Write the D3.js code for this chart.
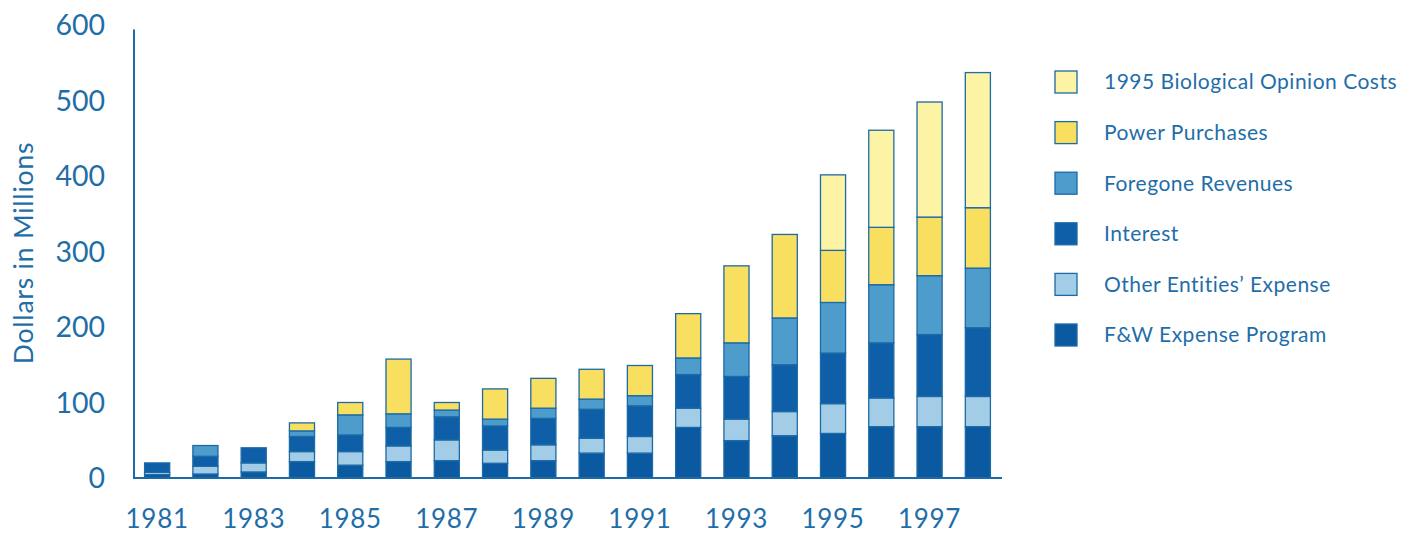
<!DOCTYPE html>
<html>
<head>
<meta charset="utf-8">
<script src="https://cdn.jsdelivr.net/npm/d3@7"></script>
<style>
  html, body { margin: 0; padding: 0; background: #ffffff; }
  svg { display: block; }
  text { font-family: Lato, "Open Sans", sans-serif; fill: #1f6ea8; }
</style>
</head>
<body>
<svg id="chart" width="1410" height="536"></svg>
<script>
// Fish & wildlife program costs by year, in millions of dollars
const years = [1981, 1982, 1983, 1984, 1985, 1986, 1987, 1988, 1989,
               1990, 1991, 1992, 1993, 1994, 1995, 1996, 1997, 1998];

const fwExpense     = [4.5, 5.3, 8, 21.7, 17, 21.7, 23, 19.5, 23, 33, 33, 67, 49.5, 56, 59, 68, 68, 68];
const otherEntities = [3, 10.2, 12, 13.3, 18, 20.8, 27.5, 17.5, 21, 19.7, 22, 25.5, 28.5, 32, 39.5, 38, 40, 40];
const interest      = [12.5, 13.3, 20, 20, 22, 24.5, 30.5, 32, 35, 38.3, 40.6, 44.5, 56.5, 62, 67, 73, 82, 91];
const foregone      = [0, 14.2, 0, 7.4, 26.6, 18, 9, 9, 13.5, 13.5, 13.4, 22, 44.5, 62, 67, 77, 78, 79];
const powerPurch    = [0, 0, 0, 10.6, 16.4, 72.5, 10, 40, 39.5, 39.5, 40, 58.7, 102, 110.6, 69, 76, 77.6, 80];
const bioOpinion    = [0, 0, 0, 0, 0, 0, 0, 0, 0, 0, 0, 0, 0, 0, 100, 128.6, 152.4, 179];

const seriesNames = ["F&W Expense Program", "Other Entities\u2019 Expense", "Interest",
                     "Foregone Revenues", "Power Purchases", "1995 Biological Opinion Costs"];
const seriesValues = [fwExpense, otherEntities, interest, foregone, powerPurch, bioOpinion];
const seriesColors = ["#0a59a1", "#a3cce6", "#0e5fa7", "#4e9ccb", "#f9df5f", "#fcf3a4"];

const xTickLabels = [1981, 1983, 1985, 1987, 1989, 1991, 1993, 1995, 1997];
const yTicks = [0, 100, 200, 300, 400, 500, 600];

const outline = "#1c6aa6";
const svg = d3.select("#chart");

// rows for the stack layout
const rows = years.map((yr, i) => {
  const r = { year: yr };
  seriesNames.forEach((n, k) => { r[n] = seriesValues[k][i]; });
  return r;
});
const stacked = d3.stack().keys(seriesNames)(rows);

const x = d3.scaleBand().domain(years).range([133, 1002]).paddingInner(0.48).paddingOuter(0.24);
const y = d3.scaleLinear().domain([0, 600]).range([478, 25]);

// stacked bars
svg.append("g").selectAll("g")
  .data(stacked)
  .join("g")
  .attr("fill", (d, i) => seriesColors[i])
  .selectAll("rect")
  .data(d => d.filter(s => s[1] - s[0] > 0))
  .join("rect")
  .attr("x", d => x(d.data.year))
  .attr("width", x.bandwidth())
  .attr("y", d => y(d[1]))
  .attr("height", d => y(d[0]) - y(d[1]))
  .attr("stroke", outline)
  .attr("stroke-width", 1.3);

// axes
const yAxis = d3.axisLeft(y).tickValues(yTicks).tickSize(0).tickPadding(29);
const gy = svg.append("g").attr("transform", "translate(134,0)").call(yAxis);
gy.select(".domain").attr("stroke", outline).attr("stroke-width", 2).attr("d", `M0,${y(594)}V${y(0)}`);
gy.selectAll("text").attr("font-size", 28.5).attr("fill", "#1f6ea8").attr("dy", "0.35em");

const xAxis = d3.axisBottom(x).tickValues(xTickLabels).tickSize(0).tickPadding(50);
const gx = svg.append("g").attr("transform", `translate(0,${y(0)})`).call(xAxis);
gx.select(".domain").attr("stroke", outline).attr("stroke-width", 2).attr("d", "M133,0H1002");
gx.selectAll("text").attr("font-size", 26).attr("letter-spacing", 0.7).attr("fill", "#1f6ea8").attr("dy", "0");

// y axis title
svg.append("text")
  .attr("transform", `translate(33,253) rotate(-90)`)
  .attr("text-anchor", "middle")
  .attr("font-size", 26.5)
  .attr("letter-spacing", 0.8)
  .text("Dollars in Millions");

// legend, top entry is the top stack layer
const legendOrder = seriesNames.map((n, i) => i).reverse();
const lg = svg.append("g").selectAll("g")
  .data(legendOrder)
  .join("g")
  .attr("transform", (d, j) => `translate(1055,${82 + j * 50.6})`);
lg.append("rect")
  .attr("x", 0).attr("y", -11).attr("width", 22).attr("height", 22)
  .attr("fill", d => seriesColors[d])
  .attr("stroke", outline).attr("stroke-width", 1.3);
lg.append("text")
  .attr("x", 49).attr("y", 0).attr("dy", "0.35em")
  .attr("font-size", 21)
  .attr("letter-spacing", 0.5)
  .text(d => seriesNames[d]);
</script>
</body>
</html>
